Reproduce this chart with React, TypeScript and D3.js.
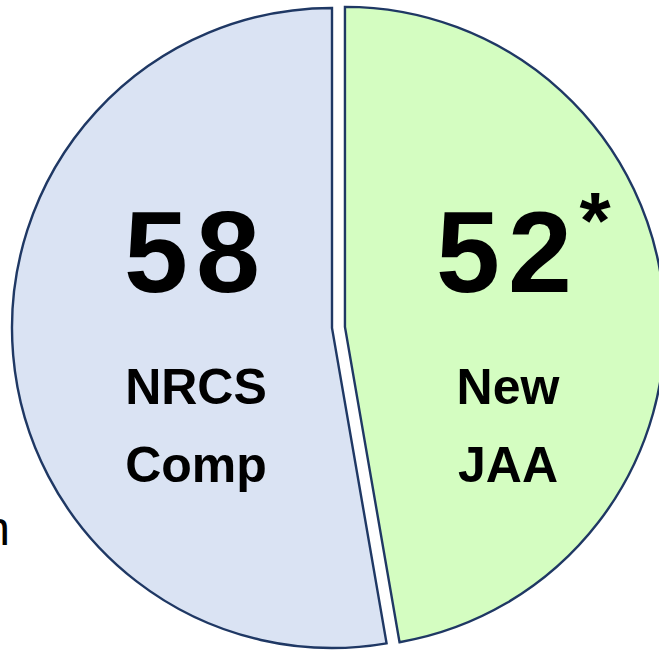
import React from 'react';
import { arc, pie, PieArcDatum } from 'd3';

const width = 659;
const height = 650;

// Slices, clockwise from 12 o'clock
const categories = ['New JAA', 'NRCS Comp'];
const values = [52, 58];
const valueLabels = ['52', '58'];
const nameLines = [['New', 'JAA'], ['NRCS', 'Comp']];
const footnoteMark = ['*', ''];
const exploded = [true, false];

const fills = ['#d4fdc1', '#dae3f3'];
const stroke = '#1f3864';

const cx = 332;
const cy = 328;
const radius = 320;
const explode = 13;
// horizontal label centres relative to the pie centre
const labelDx = [176, -136];

type Slice = { name: string; value: number; i: number };

const App = () => {
  const slices: Slice[] = categories.map((name, i) => ({ name, value: values[i], i }));

  const pieFn = pie<Slice>().sort(null).value(d => d.value);
  const arcs = pieFn(slices);

  const arcFn = arc<PieArcDatum<Slice>>().innerRadius(0).outerRadius(radius);

  const font = '"Liberation Sans", Arial, sans-serif';

  return (
    <svg
      width={width}
      height={height}
      style={{ position: 'absolute', left: 0, top: 0, background: '#fff' }}
    >
      {/* cut-off text at the left edge, as in the source image */}
      <text x={10} y={545} textAnchor="end" fontFamily={font} fontSize={48} fill="#000">
        n
      </text>

      <g transform={`translate(${cx},${cy})`}>
        {arcs.map(a => {
          const mid = (a.startAngle + a.endAngle) / 2;
          const off = exploded[a.data.i] ? explode : 0;
          const dx = Math.sin(mid) * off;
          const dy = -Math.cos(mid) * off;
          return (
            <g key={a.data.name} transform={`translate(${dx},${dy})`}>
              <path
                d={arcFn(a) || ''}
                fill={fills[a.data.i]}
                stroke={stroke}
                strokeWidth={2.4}
                strokeLinejoin="miter"
              />
            </g>
          );
        })}

        {arcs.map(a => {
          const i = a.data.i;
          const x = labelDx[i];
          return (
            <g key={`lbl-${a.data.name}`} fontFamily={font} fill="#000" textAnchor="middle">
              <text x={x} y={292 - cy} fontSize={115} fontWeight="bold" letterSpacing={8}>
                {valueLabels[i]}
              </text>
              {footnoteMark[i] && (
                <text x={x + 87} y={248 - cy} fontSize={80} fontWeight="bold">
                  {footnoteMark[i]}
                </text>
              )}
              {nameLines[i].map((line, j) => (
                <text
                  key={line}
                  x={x}
                  y={404 - cy + j * 78}
                  fontSize={50}
                  fontWeight="bold"
                >
                  {line}
                </text>
              ))}
            </g>
          );
        })}
      </g>
    </svg>
  );
};

export default App;
